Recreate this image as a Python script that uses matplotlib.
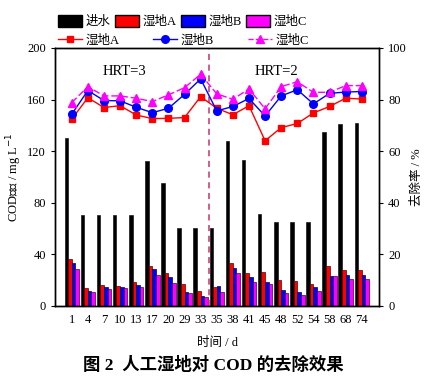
import numpy as np
import matplotlib
matplotlib.use("Agg")
from matplotlib import pyplot as plt
from matplotlib.patches import Patch
from matplotlib.lines import Line2D

plt.rcParams['font.family'] = ['Liberation Serif', 'Noto Sans CJK SC']
plt.rcParams['font.size'] = 9

days = ['1', '4', '7', '10', '13', '17', '20', '29', '33', '35',
        '38', '41', '45', '48', '52', '54', '58', '68', '74']

# COD concentration, mg/L
cod_in = [130, 70, 70, 70, 70, 112, 95, 60, 60, 60,
          128, 113, 71, 65, 65, 65, 135, 141, 142]
cod_a = [36, 13.4, 16.3, 15.5, 18.3, 30.5, 25.6, 16.5, 11.4, 14.2,
         33.3, 25.3, 25.8, 20.2, 19.1, 16.5, 30.8, 27.6, 27.9]
cod_b = [33.5, 11.6, 14.2, 14.5, 16.3, 28.2, 22.2, 10.9, 7.5, 15.0,
         29.2, 22.2, 18.6, 12.1, 10.9, 14.2, 23.0, 24.0, 23.5]
cod_c = [28.4, 10.6, 13.2, 13.4, 14.2, 23.8, 17.8, 9.6, 6.4, 10.9,
         25.3, 18.1, 16.8, 10.1, 8.5, 11.1, 22.7, 20.9, 20.9]

# removal rate, %
rate_a = [72.4, 80.7, 76.9, 77.6, 74.0, 72.6, 72.7, 73.0, 81.1, 76.6,
          74.1, 77.6, 64.0, 69.1, 70.7, 74.8, 77.3, 80.5, 80.2]
rate_b = [74.3, 83.5, 79.6, 79.5, 77.0, 74.9, 76.6, 82.0, 88.0, 75.6,
          77.3, 80.4, 73.6, 81.4, 83.8, 78.3, 82.4, 82.9, 83.1]
rate_c = [78.8, 85.0, 81.4, 81.4, 80.5, 79.2, 81.8, 84.6, 89.8, 82.2,
          80.1, 84.1, 76.4, 85.0, 86.9, 82.8, 82.8, 85.4, 85.4]

x = np.arange(len(days))
w = 0.225

fig = plt.figure(figsize=(4.27, 3.79), dpi=100)
ax = fig.add_axes([0.1288, 0.1934, 0.7588, 0.68])

ax.bar(x - 1.5*w, cod_in, w, color='black', edgecolor='black', lw=0.4)
ax.bar(x - 0.5*w, cod_a, w, color='#ff0000', edgecolor='#5a0000', lw=0.5)
ax.bar(x + 0.5*w, cod_b, w, color='#0000ff', edgecolor='#00004a', lw=0.5)
ax.bar(x + 1.5*w, cod_c, w, color='#ff00ff', edgecolor='#4a004a', lw=0.5)

ax.set_xlim(-1.04, 19.07)
ax.set_ylim(0, 200)
ax.set_yticks([0, 40, 80, 120, 160, 200])
ax.set_xticks(x)
ax.set_xticklabels(days)
ax.tick_params(axis='x', length=0, pad=6)
ax.tick_params(axis='y', direction='out', length=3, width=0.8)
ax.set_ylabel('COD浓度 / mg L$^{-1}$', labelpad=2)
ax.set_xlabel('时间 / d', labelpad=8)

ax2 = ax.twinx()
ax2.plot(x, rate_a, '-s', color='#ff0000', lw=1, ms=5)
ax2.plot(x, rate_b, '-o', color='#0000ff', lw=1, ms=5.5)
ax2.plot(x, rate_c, '--^', color='#ff00ff', lw=1, ms=6, dashes=(5, 2))
ax2.set_ylim(0, 100)
ax2.set_yticks([0, 20, 40, 60, 80, 100])
ax2.tick_params(axis='y', direction='out', length=3, width=0.8)
ax2.set_ylabel('去除率 / %', labelpad=3)

ax.axvline(8.5, color='#c8306e', ls='--', lw=1.1, dashes=(4, 3))
ax.text(3.3, 182, 'HRT=3', fontsize=10.5, ha='center', va='center')
ax.text(12.7, 182, 'HRT=2', fontsize=10.5, ha='center', va='center')

for a in (ax, ax2):
    for s in a.spines.values():
        s.set_linewidth(1.0)

bar_handles = [Patch(facecolor='black', edgecolor='black'),
               Patch(facecolor='#ff0000', edgecolor='black'),
               Patch(facecolor='#0000ff', edgecolor='black'),
               Patch(facecolor='#ff00ff', edgecolor='black')]
fig.legend(bar_handles, ['进水', '湿地A', '湿地B', '湿地C'], loc='center left',
           bbox_to_anchor=(0.136, 0.943), ncol=4, frameon=False, fontsize=9,
           borderpad=0, borderaxespad=0,
           handlelength=1.9, handleheight=1.1, columnspacing=0.35, handletextpad=0.3)
line_handles = [Line2D([], [], color='#ff0000', marker='s', ms=5, lw=1),
                Line2D([], [], color='#0000ff', marker='o', ms=5.5, lw=1),
                Line2D([], [], color='#ff00ff', marker='^', ms=6, lw=1, ls='--')]
fig.legend(line_handles, ['湿地A', '湿地B', '湿地C'], loc='center left',
           bbox_to_anchor=(0.136, 0.893), ncol=3, frameon=False, fontsize=9,
           borderpad=0, borderaxespad=0,
           handlelength=1.9, columnspacing=2.7, handletextpad=0.3)

fig.text(0.5, 0.035, '图 2  人工湿地对 COD 的去除效果', ha='center', va='center',
         fontsize=12.5, fontweight='bold')

fig.savefig('out.png', dpi=100)
